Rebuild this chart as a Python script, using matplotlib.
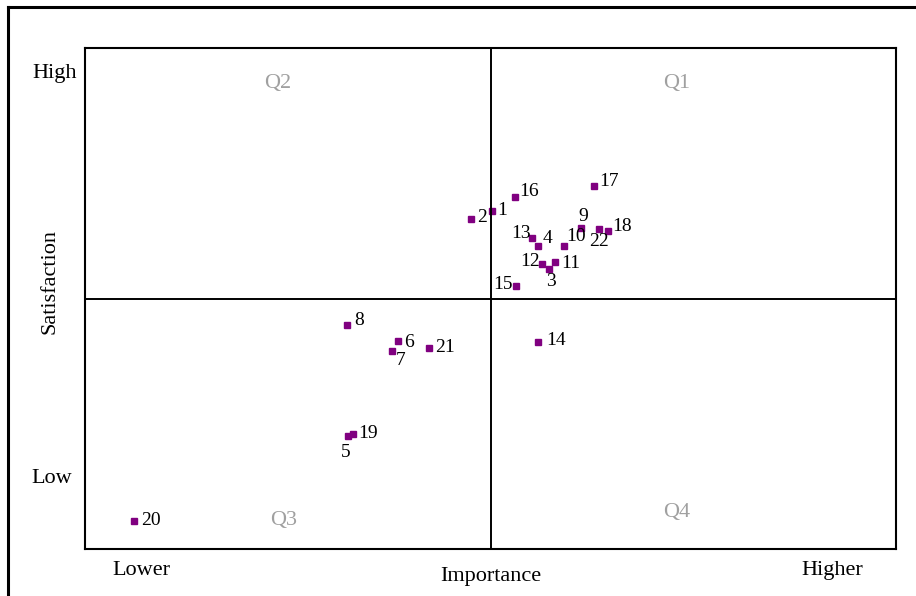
import matplotlib
matplotlib.use("Agg")
from matplotlib import pyplot as plt
from matplotlib.lines import Line2D

plt.rcParams["font.family"] = ["Liberation Serif", "DejaVu Serif"]

# item numbers and their (importance, satisfaction) positions on a 0-10 grid
ids = [str(i) for i in range(1, 23)]
importance = [5.02, 4.76, 5.72, 5.58, 3.24, 3.86, 3.78, 3.23, 6.12, 5.91, 5.80,
              5.64, 5.51, 5.59, 5.32, 5.30, 6.28, 6.45, 3.30, 0.61, 4.24, 6.34]
satisfaction = [6.75, 6.59, 5.59, 6.05, 2.26, 4.15, 3.96, 4.47, 6.41, 6.05, 5.72,
                5.69, 6.21, 4.13, 5.24, 7.02, 7.25, 6.34, 2.30, 0.56, 4.01, 6.38]

quadrants = ["Q1", "Q2", "Q3", "Q4"]
quad_x = [7.30, 2.37, 2.45, 7.30]
quad_y = [9.30, 9.30, 0.56, 0.72]

# label offsets in pixels (dx right, dy down) so labels don't collide
offsets = {
    "1": (10, 0), "2": (11, -1), "3": (2, 13), "4": (10, -7), "5": (-2, 17),
    "6": (11, 1), "7": (9, 10), "8": (12, -5), "9": (2, -11), "10": (12, -9),
    "11": (15, 1), "12": (-12, -2), "13": (-11, -4), "14": (18, -2),
    "15": (-13, -2), "16": (14, -6), "17": (15, -4), "18": (14, -5),
    "19": (15, 0), "20": (16, 0), "21": (16, -1), "22": (0, 12),
}

fig = plt.figure(figsize=(9.16, 5.96), dpi=100)
ax = fig.add_axes([85 / 916, 47 / 596, 811 / 916, 501 / 596])

ax.plot(importance, satisfaction, "s", color="#800080", markersize=4.8,
        linestyle="none")
for name, xv, yv in zip(ids, importance, satisfaction):
    dx, dy = offsets[name]
    ax.annotate(name, (xv, yv), xytext=(dx, -dy), textcoords="offset pixels",
                ha="center", va="center", fontsize=14)

for q, xv, yv in zip(quadrants, quad_x, quad_y):
    ax.text(xv, yv, q, ha="center", va="center", fontsize=16, color="#a0a0a0")

ax.axvline(5, color="black", lw=1.4)
ax.axhline(5, color="black", lw=1.4)

ax.set_xlim(0, 10)
ax.set_ylim(0, 10)
ax.set_xticks([])
ax.set_yticks([])
for s in ax.spines.values():
    s.set_linewidth(1.5)

# axis words drawn as plain text
ax.text(-0.37, 9.50, "High", ha="center", va="center", fontsize=16, clip_on=False)
ax.text(-0.41, 1.40, "Low", ha="center", va="center", fontsize=16, clip_on=False)
ax.text(0.69, -0.42, "Lower", ha="center", va="center", fontsize=16, clip_on=False)
ax.text(5.0, -0.54, "Importance", ha="center", va="center", fontsize=16, clip_on=False)
ax.text(9.21, -0.42, "Higher", ha="center", va="center", fontsize=16, clip_on=False)
ax.text(-0.43, 5.33, "Satisfaction", ha="center", va="center", fontsize=16,
        rotation=90, clip_on=False)

# outer frame (top and left edges only visible)
fig.add_artist(Line2D([8 / 916, 1], [1 - 7 / 596, 1 - 7 / 596],
                      transform=fig.transFigure, color="black", lw=2.2))
fig.add_artist(Line2D([8 / 916, 8 / 916], [0, 1 - 7 / 596],
                      transform=fig.transFigure, color="black", lw=2.2))

fig.savefig("out.png", dpi=100)
